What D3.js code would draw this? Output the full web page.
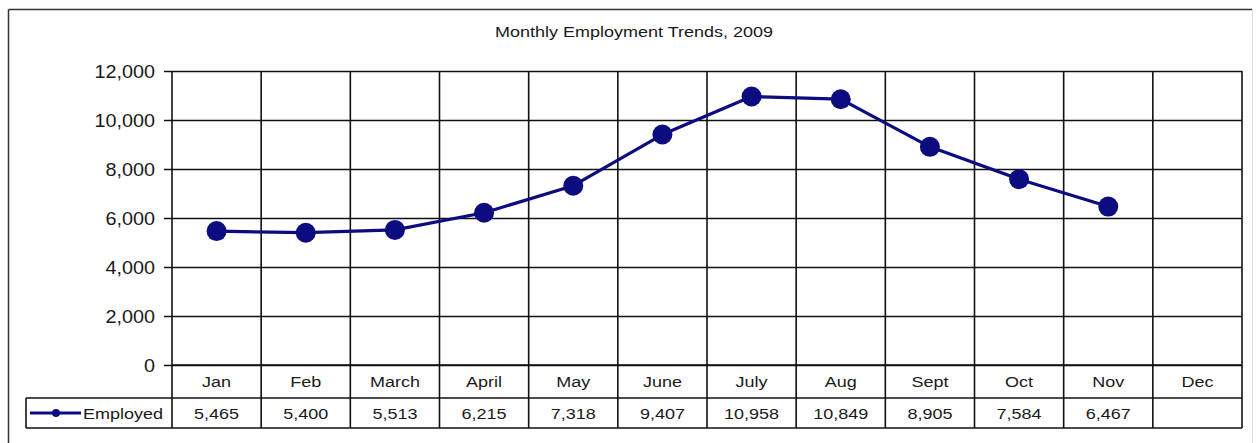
<!DOCTYPE html>
<html>
<head>
<meta charset="utf-8">
<script src="https://cdn.jsdelivr.net/npm/d3@7"></script>
<style>
  html, body { margin: 0; padding: 0; background: #fff; }
  svg { display: block; }
  text { font-family: "Liberation Sans", Arial, sans-serif; fill: #1a1a1a; }
</style>
</head>
<body>
<svg id="chart" width="1256" height="443"></svg>
<script>
const title = "Monthly Employment Trends, 2009";
const months = ["Jan", "Feb", "March", "April", "May", "June", "July", "Aug", "Sept", "Oct", "Nov", "Dec"];
const employed = [5465, 5400, 5513, 6215, 7318, 9407, 10958, 10849, 8905, 7584, 6467, null];
const seriesName = "Employed";
const yTicks = [0, 2000, 4000, 6000, 8000, 10000, 12000];

(function () {
const svg = d3.select("#chart");
const lineColor = "#0c0c80";
const gridColor = "#111";
const pLeft = 172, pRight = 1242, pTop = 71, pBottom = 365;
const rowCat = 398, rowVal = 428, tableLeft = 26;
const sx = 1.2;

const x = d3.scaleBand().domain(months).range([pLeft, pRight]);
const y = d3.scaleLinear().domain([0, 12000]).range([pBottom, pTop]);

// outer frame
svg.append("line").attr("x1", 8.5).attr("x2", 8.5).attr("y1", 9.5).attr("y2", 443).attr("stroke", "#333").attr("stroke-width", 1.5);
svg.append("line").attr("x1", 8.5).attr("x2", 1252).attr("y1", 9.5).attr("y2", 9.5).attr("stroke", "#333").attr("stroke-width", 1.5);
svg.append("line").attr("x1", 1252.5).attr("x2", 1252.5).attr("y1", 9.5).attr("y2", 443).attr("stroke", "#ddd").attr("stroke-width", 1);

function stretched(g, tx, ty, txt, size, anchor, scale) {
  return g.append("text")
    .attr("transform", `translate(${tx},${ty}) scale(${scale},1)`)
    .attr("text-anchor", anchor)
    .attr("dominant-baseline", "central")
    .style("font-size", size + "px")
    .text(txt);
}

// title
stretched(svg, 634, 32, title, 15, "middle", sx);

// y axis with grid
const yAxis = d3.axisLeft(y).tickValues(yTicks).tickFormat(d3.format(",")).tickSize(-(pRight - pLeft + 8)).tickPadding(0);
const gy = svg.append("g").attr("transform", `translate(${pLeft - 8},0)`).call(yAxis);
gy.select(".domain").remove();
gy.selectAll(".tick line").attr("stroke", gridColor).attr("stroke-width", 1.6);
gy.selectAll(".tick text").remove();
gy.selectAll(".tick").each(function (d) {
  stretched(d3.select(this), -9, 0, d3.format(",")(d), 18, "end", 1.1);
});

// vertical grid lines (column boundaries) through table
const bounds = months.map(m => x(m)).concat([pRight]);
svg.append("g").selectAll("line").data(bounds).join("line")
  .attr("x1", d => d).attr("x2", d => d)
  .attr("y1", pTop).attr("y2", rowVal)
  .attr("stroke", gridColor).attr("stroke-width", 1.6);

// table horizontal lines
svg.append("line").attr("x1", pLeft).attr("x2", pRight).attr("y1", pBottom).attr("y2", pBottom).attr("stroke", gridColor).attr("stroke-width", 1.6);
[rowCat, rowVal].forEach(yy => {
  svg.append("line").attr("x1", tableLeft).attr("x2", pRight).attr("y1", yy).attr("y2", yy).attr("stroke", gridColor).attr("stroke-width", 1.6);
});
svg.append("line").attr("x1", tableLeft).attr("x2", tableLeft).attr("y1", rowCat).attr("y2", rowVal).attr("stroke", gridColor).attr("stroke-width", 1.6);

// category labels and values
const cx = m => x(m) + x.bandwidth() / 2;
months.forEach((m, i) => {
  stretched(svg, cx(m), (pBottom + rowCat) / 2 + 0.5, m, 15, "middle", sx);
  if (employed[i] != null) stretched(svg, cx(m), (rowCat + rowVal) / 2 + 1, d3.format(",")(employed[i]), 15, "middle", sx);
});

// legend key
svg.append("line").attr("x1", 30).attr("x2", 81).attr("y1", 413).attr("y2", 413).attr("stroke", lineColor).attr("stroke-width", 3);
svg.append("circle").attr("cx", 56).attr("cy", 413).attr("r", 4).attr("fill", lineColor);
stretched(svg, 83, 414, seriesName, 15, "start", sx);

// series line
const pts = months.map((m, i) => ({ m, v: employed[i] })).filter(d => d.v != null);
svg.append("path").datum(pts)
  .attr("fill", "none").attr("stroke", lineColor).attr("stroke-width", 3.2)
  .attr("stroke-linejoin", "round")
  .attr("d", d3.line().x(d => cx(d.m)).y(d => y(d.v)));
svg.append("g").selectAll("circle").data(pts).join("circle")
  .attr("cx", d => cx(d.m)).attr("cy", d => y(d.v)).attr("r", 10)
  .attr("fill", lineColor);
})();
</script>
</body>
</html>
